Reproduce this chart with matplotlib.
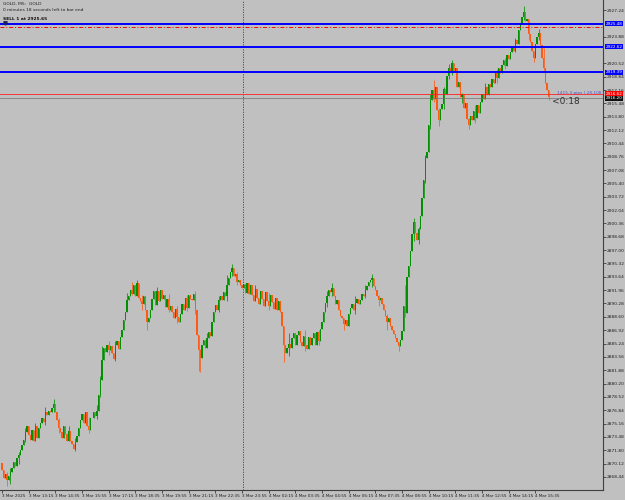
import matplotlib
matplotlib.use("Agg")
import matplotlib.pyplot as plt
import matplotlib.transforms as mtransforms
import numpy as np

# ---- chart data (GOLD, M5) ----
first_open = 2870.2
close_3mar = [
    2869.3, 2868.3, 2868.8, 2868.0, 2868.5, 2869.0,
    2869.5, 2870.3, 2869.8, 2870.8, 2871.2, 2871.8,
    2872.4, 2873.1, 2874.1, 2874.9, 2873.7, 2873.1,
    2874.3, 2873.0, 2874.9, 2873.4, 2874.6, 2875.2,
    2875.8, 2875.3, 2876.6, 2876.2, 2876.8, 2876.6,
    2877.1, 2877.6, 2876.6, 2875.6, 2874.6, 2874.1,
    2873.4, 2874.9, 2873.8, 2872.9, 2874.2, 2873.0,
    2872.6, 2872.0, 2872.8, 2873.6, 2874.6, 2875.6,
    2876.3, 2875.2, 2876.6, 2874.9, 2874.4, 2875.8,
    2875.8, 2876.6, 2876.1, 2876.8, 2878.7, 2880.6,
    2883.1, 2884.7, 2884.2, 2885.0, 2884.4, 2884.9,
    2884.0, 2883.3, 2885.0, 2885.6, 2884.5, 2886.1,
    2886.9, 2888.2, 2889.2, 2890.7, 2891.2, 2892.0,
    2891.5, 2892.6, 2891.2, 2892.8, 2891.0, 2890.6,
    2890.2, 2891.2, 2889.4, 2887.9, 2888.4, 2889.4,
    2890.9, 2891.9, 2890.1, 2891.8, 2890.6, 2892.0,
    2890.8, 2891.4, 2889.8, 2890.9, 2889.5, 2889.9,
    2889.2, 2888.4, 2889.6, 2888.6, 2888.0, 2889.0,
    2890.2, 2889.4, 2891.0, 2889.7, 2891.3, 2890.9,
    2890.7, 2891.5, 2889.4, 2886.3, 2884.4, 2883.4,
    2885.0, 2885.7, 2884.7, 2885.9, 2886.7, 2886.2,
    2887.9, 2889.2, 2890.1, 2889.4, 2890.7, 2891.2,
    2890.7, 2891.7, 2891.2, 2892.6, 2893.5, 2894.2,
    2894.7, 2893.7, 2894.0, 2893.0, 2893.2, 2892.6,
    2892.2,
]
close_4mar = [
    2892.7, 2891.6, 2892.9, 2891.5, 2892.6,
    2891.4, 2890.6, 2892.1, 2891.0, 2890.2, 2891.9,
    2890.8, 2890.0, 2891.7, 2890.6, 2889.9, 2891.4,
    2890.5, 2889.6, 2891.0, 2889.5, 2890.6, 2889.2,
    2887.5, 2885.0, 2884.1, 2884.7, 2885.2, 2884.7,
    2885.9, 2886.6, 2885.0, 2886.3, 2886.8, 2885.4,
    2884.9, 2886.2, 2885.0, 2884.6, 2886.0, 2885.0,
    2885.9, 2886.6, 2885.1, 2886.7, 2885.6, 2887.1,
    2887.9, 2889.2, 2890.4, 2891.2, 2892.0, 2891.7,
    2892.2, 2891.2, 2890.2, 2890.7, 2889.4, 2888.7,
    2888.4, 2887.7, 2888.2, 2887.4, 2888.9, 2889.7,
    2890.2, 2889.4, 2890.4, 2890.9, 2890.2, 2890.7,
    2891.5, 2891.2, 2892.0, 2892.5, 2893.0, 2893.2,
    2893.5, 2892.5, 2892.0, 2891.2, 2890.7, 2891.0,
    2890.2, 2889.4, 2888.7, 2887.9, 2888.4, 2887.4,
    2886.9, 2886.4, 2885.9, 2885.4, 2884.9, 2885.7,
    2886.8, 2889.9, 2889.1, 2893.6, 2895.0, 2896.9,
    2899.0, 2900.5, 2899.1, 2898.3, 2899.6, 2901.3,
    2903.6, 2905.8, 2908.6, 2909.3, 2912.7, 2915.9,
    2917.2, 2916.0, 2917.5, 2914.6, 2913.4, 2914.8,
    2915.4, 2917.3, 2916.6, 2918.9, 2919.9, 2919.5,
    2920.6, 2919.4, 2919.9, 2917.6, 2918.2, 2916.3,
    2916.7, 2914.9, 2915.5, 2913.5, 2912.8, 2913.9,
    2913.4, 2914.5, 2913.7, 2915.3, 2914.3, 2915.7,
    2916.6, 2916.0, 2917.5, 2916.5, 2917.9, 2917.6,
    2918.6, 2918.0, 2919.3, 2918.7, 2919.9, 2919.3,
    2920.3, 2921.0, 2920.2, 2921.6, 2921.1, 2922.0,
    2922.6, 2922.1, 2923.5, 2923.0, 2924.7, 2925.6,
    2926.4, 2927.0, 2925.8, 2926.1, 2924.2, 2923.2,
    2922.1, 2921.2, 2922.9, 2923.9, 2924.4, 2922.8,
    2921.2, 2919.9, 2918.0, 2917.2, 2916.3,
]
# wick extremes: bar -> (high, low)
wicks = {
    3: (2869.0, 2867.3), 5: (2869.6, 2867.6), 10: (2871.6, 2870.1),
    14: (2874.6, 2872.8), 20: (2875.2, 2873.0), 26: (2877.2, 2875.0),
    31: (2878.2, 2876.6), 34: (2875.9, 2874.0), 40: (2874.8, 2872.9),
    44: (2873.4, 2871.7), 52: (2876.0, 2874.0), 57: (2877.5, 2875.7),
    59: (2881.2, 2878.5), 60: (2884.9, 2880.6), 64: (2885.6, 2883.8),
    68: (2885.6, 2883.0), 75: (2891.6, 2889.6), 78: (2893.0, 2891.4),
    81: (2893.3, 2891.6), 84: (2891.3, 2889.5), 87: (2889.4, 2886.9),
    93: (2892.4, 2890.6), 100: (2891.5, 2889.2), 105: (2889.9, 2887.8),
    111: (2891.4, 2889.3), 116: (2891.8, 2888.9), 118: (2886.3, 2881.8),
    119: (2884.6, 2881.6), 123: (2886.5, 2884.9), 130: (2891.2, 2889.2),
    135: (2893.9, 2890.6), 138: (2895.2, 2893.7), 141: (2894.2, 2892.6),
    152: (2892.6, 2890.6), 160: (2891.6, 2889.5), 169: (2887.5, 2882.9),
    172: (2886.6, 2883.7), 182: (2886.9, 2884.3), 190: (2886.9, 2885.0),
    195: (2891.9, 2889.8), 198: (2892.8, 2891.2), 205: (2888.5, 2887.0),
    212: (2891.2, 2889.0), 218: (2892.6, 2891.0), 222: (2894.0, 2892.4),
    226: (2891.4, 2889.9), 231: (2888.9, 2887.0), 238: (2885.4, 2884.3),
    242: (2892.6, 2888.6), 247: (2901.0, 2898.2), 250: (2899.9, 2897.8),
    254: (2909.0, 2905.5), 257: (2916.6, 2912.2), 259: (2918.4, 2915.6),
    262: (2914.9, 2912.6), 265: (2917.6, 2914.8), 268: (2920.4, 2918.6),
    270: (2921.0, 2919.1), 276: (2916.8, 2915.5), 280: (2913.6, 2912.2),
    284: (2915.3, 2913.0), 290: (2918.0, 2916.0), 297: (2919.8, 2918.0),
    302: (2921.2, 2919.8), 308: (2923.7, 2922.0), 313: (2927.7, 2926.0),
    316: (2925.2, 2923.5), 319: (2922.0, 2920.7), 322: (2924.9, 2923.4),
    325: (2922.4, 2919.5), 328: (2916.9, 2915.9),
}

time_labels = ["3 Mar 2025", "3 Mar 13:15", "3 Mar 14:35", "3 Mar 15:55",
               "3 Mar 17:15", "3 Mar 18:35", "3 Mar 19:55", "3 Mar 21:15",
               "3 Mar 22:35", "3 Mar 23:55", "4 Mar 02:15", "4 Mar 03:35",
               "4 Mar 04:55", "4 Mar 06:15", "4 Mar 07:35", "4 Mar 08:55",
               "4 Mar 10:15", "4 Mar 11:35", "4 Mar 12:55", "4 Mar 14:15",
               "4 Mar 15:35"]
time_label_bars = [0, 16, 32, 48, 64, 80, 96, 112, 128, 144, 160, 176,
                   192, 208, 224, 240, 256, 272, 288, 304, 320]

tp_levels = [2925.48, 2922.62, 2919.39]
sell_price = 2925.65
sl_price = 2925.06
ask_price = 2916.62
bid_price = 2916.20

# ---- build candles ----
close = np.array(close_3mar + close_4mar)
opens = np.concatenate([[first_open], close[:-1]])
idx = np.arange(len(close))
high = np.maximum(opens, close)
low = np.minimum(opens, close)
for i, (h, l) in wicks.items():
    high[i] = max(high[i], h)
    low[i] = min(low[i], l)

BG = "#C0C0C0"
UP = "#009000"
DN = "#FF5A14"

fig = plt.figure(figsize=(6.25, 5), dpi=100, facecolor=BG)
ax = fig.add_axes([0, 10 / 500, 603 / 625, 490 / 500], facecolor=BG)

cols = np.where(close >= opens, UP, DN)
ax.vlines(idx, low, high, colors=cols, lw=0.55)
body = np.maximum(np.abs(close - opens), 0.1)
ax.bar(idx, body, bottom=np.minimum(opens, close), width=0.8, color=cols,
       linewidth=0)

ax.set_xlim(-1.2, 360.5)
ax.set_ylim(2866.79, 2928.50)

# period separator
ax.axvline(144.5, color="#404040", lw=0.6, ls=(0, (1.5, 1.5)))

# trade / price lines
ax.axhline(sell_price, color="black", lw=0.6, ls=(0, (1, 1)))
for lv in tp_levels:
    ax.axhline(lv, color="#0000FF", lw=1.4)
ax.axhline(sl_price, color="#FF0000", lw=0.7, ls=(0, (4, 2, 1, 2)))
ax.axhline(ask_price, color="#FF2020", lw=0.6)
ax.axhline(bid_price, color="#707070", lw=0.5)

# axes styling (MetaTrader look)
for s in ["top", "left"]:
    ax.spines[s].set_visible(False)
for s in ["right", "bottom"]:
    ax.spines[s].set_color("#404040")
    ax.spines[s].set_linewidth(0.8)

tags = [(lv, "#0000FF", lv) for lv in tp_levels] + [
    (ask_price, "#FF0000", ask_price + 0.07),
    (bid_price, "#101010", bid_price - 0.07)]

all_ticks = [round(2868.44 + 1.68 * k, 2) for k in range(36)]
# labels hidden behind a price tag are left out
price_ticks = [p for p in all_ticks
               if min(abs(p - t[0]) for t in tags) > 0.45]
ax.yaxis.tick_right()
ax.set_yticks(price_ticks)
ax.set_yticklabels([f"{p:.2f}" for p in price_ticks])
ax.tick_params(axis="y", direction="out", length=2, width=0.5, pad=1,
               labelsize=3.2, colors="#202020")
ax.set_xticks(time_label_bars)
ax.set_xticklabels(time_labels)
ax.tick_params(axis="x", direction="out", length=2, width=0.5, pad=1,
               labelsize=3.0, colors="#202020")
for lab in ax.get_xticklabels():
    lab.set_ha("left")

# right-axis price tags
tr = mtransforms.blended_transform_factory(ax.transAxes, ax.transData)
for lv, fc, ypos in tags:
    ax.text(1.004, ypos, f"{lv:.2f}", transform=tr, fontsize=3.0,
            color="white", va="center", ha="left", clip_on=False,
            bbox=dict(boxstyle="square,pad=0.12", fc=fc, ec="none"))

# header texts
fig.text(3 / 625, 1 - 4 / 500, "GOLD, M5:  GOLD", fontsize=3.2,
         va="center", ha="left", color="#202020")
fig.text(3 / 625, 1 - 10 / 500, "0 minutes 18 seconds left to bar end",
         fontsize=3.2, va="center", ha="left", color="#202020")
fig.text(3 / 625, 1 - 19 / 500, f"SELL 1 at {sell_price:.2f}",
         fontsize=3.2, va="center", ha="left", color="#101010",
         fontweight="bold")
ax.plot([1.5], [sell_price - 0.1], marker="v", ms=2.5, color="#202060")

fig.text(557 / 625, 1 - 93 / 500, "1415.4 pips | 28.108 I", fontsize=3.1,
         va="center", ha="left", color="#5050C8")
fig.text(552 / 625, 1 - 101 / 500, "<0:18", fontsize=6.5,
         va="center", ha="left", color="#303030")

fig.savefig("out.png", dpi=100, facecolor=BG)
